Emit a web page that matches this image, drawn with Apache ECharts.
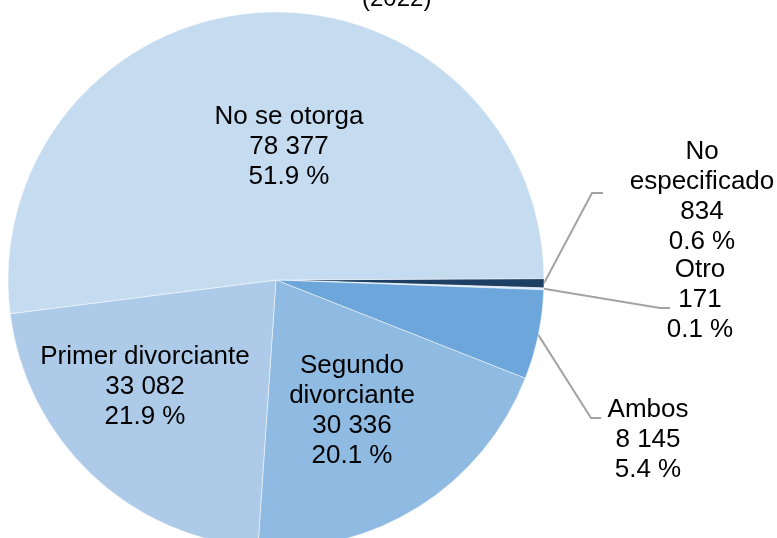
<!DOCTYPE html>
<html>
<head>
<meta charset="utf-8">
<script src="https://cdn.jsdelivr.net/npm/echarts@6/dist/echarts.min.js"></script>
<style>
  html, body { margin: 0; padding: 0; background: #fff; }
  #main { width: 777px; height: 538px; }
</style>
</head>
<body>
<div id="main"></div>
<script>
// datos, en sentido horario a partir de las 3 en punto
var categorias = ['No especificado', 'Otro', 'Ambos', 'Segundo divorciante', 'Primer divorciante', 'No se otorga'];
var nombresEtiqueta = ['No\nespecificado', 'Otro', 'Ambos', 'Segundo\ndivorciante', 'Primer divorciante', 'No se otorga'];
var valores = [834, 171, 8145, 30336, 33082, 78377];
var porcentajes = ['0.6', '0.1', '5.4', '20.1', '21.9', '51.9'];
var titulo = '(2022)';

var colores = ['#1c3f63', '#dce9f6', '#6ca6da', '#8fbae2', '#adcbe9', '#c5dbf0'];
var fuera = [true, true, true, false, false, false];

// centro de cada etiqueta
var posEtiquetas = [[702, 197], [700, 300], [648, 440], [352, 411], [145, 387], [289, 147]];
// codo y final de las líneas guía
var guias = [[[592, 193], [603, 193]], [[660, 308], [670, 308]], [[591, 418], [601, 418]]];

function miles(v) {
  return String(v).replace(/\B(?=(\d{3})+(?!\d))/g, ' ');
}

var datos = categorias.map(function (c, i) {
  return {
    name: c,
    value: valores[i],
    itemStyle: { color: colores[i] },
    label: { position: fuera[i] ? 'outside' : 'inside' },
    labelLine: { show: fuera[i] }
  };
});

var myChart = echarts.init(document.getElementById('main'));
myChart.setOption({
  animation: false,
  title: {
    text: titulo,
    left: 362,
    top: -13,
    padding: 0,
    textStyle: { fontFamily: 'Liberation Sans, Arial, sans-serif', fontSize: 24, fontWeight: 'normal', color: '#000' }
  },
  series: [{
    type: 'pie',
    center: [276, 280],
    radius: 268,
    startAngle: 0.3,
    clockwise: true,
    avoidLabelOverlap: false,
    itemStyle: { borderColor: 'rgba(255,255,255,0.6)', borderWidth: 0.8 },
    label: {
      color: '#000',
      fontFamily: 'Liberation Sans, Arial, sans-serif',
      fontSize: 26,
      lineHeight: 30,
      align: 'center',
      formatter: function (p) {
        return nombresEtiqueta[p.dataIndex] + '\n' + miles(p.value) + '\n' + porcentajes[p.dataIndex] + ' %';
      }
    },
    labelLine: {
      length: 10,
      length2: 10,
      lineStyle: { color: '#a3a3a3', width: 2 }
    },
    labelLayout: function (p) {
      var pos = posEtiquetas[p.dataIndex];
      var res = { x: pos[0], y: pos[1], align: 'center', verticalAlign: 'middle' };
      var g = guias[p.dataIndex];
      if (g && p.labelLinePoints) {
        res.labelLinePoints = [p.labelLinePoints[0].slice(), g[0], g[1]];
      }
      return res;
    },
    data: datos
  }]
});
</script>
</body>
</html>
